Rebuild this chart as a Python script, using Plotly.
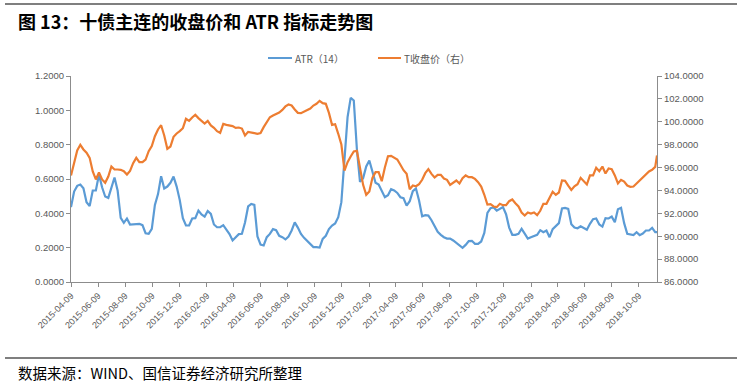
import pandas as pd
import plotly.graph_objects as go

# ---------------- data ----------------
dates = list(pd.date_range("2015-04-09", periods=189, freq="7D").strftime("%Y-%m-%d")) + ["2018-11-19"]

atr14 = [
    0.436, 0.527, 0.560, 0.568, 0.546, 0.465, 0.442, 0.533, 0.533, 0.626,
    0.552, 0.498, 0.490, 0.548, 0.609, 0.533, 0.374, 0.345, 0.370, 0.335,
    0.335, 0.337, 0.339, 0.331, 0.284, 0.281, 0.310, 0.449, 0.512, 0.616,
    0.545, 0.556, 0.578, 0.614, 0.556, 0.477, 0.372, 0.329, 0.329, 0.370,
    0.372, 0.416, 0.393, 0.381, 0.414, 0.397, 0.335, 0.319, 0.319, 0.331,
    0.308, 0.279, 0.242, 0.259, 0.279, 0.281, 0.347, 0.440, 0.455, 0.449,
    0.265, 0.218, 0.213,
    0.261, 0.280, 0.308, 0.302, 0.269, 0.261, 0.248, 0.265, 0.300, 0.347,
    0.317, 0.280, 0.257, 0.238, 0.220, 0.203, 0.203, 0.201, 0.251, 0.269,
    0.308, 0.329, 0.341, 0.378, 0.465, 0.737, 0.960, 1.073, 1.057, 0.772,
    0.583, 0.605, 0.673, 0.708, 0.649, 0.578, 0.568, 0.529, 0.494, 0.506,
    0.541, 0.533, 0.519, 0.494, 0.488, 0.445, 0.471, 0.529, 0.545, 0.475,
    0.383, 0.389, 0.387, 0.360, 0.323, 0.292, 0.275, 0.261, 0.253, 0.253,
    0.242, 0.228, 0.214,
    0.199, 0.216, 0.238, 0.240, 0.222, 0.222, 0.236, 0.286, 0.403, 0.430,
    0.434, 0.416, 0.426, 0.436, 0.395, 0.317, 0.275, 0.275, 0.281, 0.310,
    0.282, 0.253, 0.261, 0.267, 0.275, 0.302, 0.290, 0.300, 0.261, 0.308,
    0.325, 0.343, 0.428, 0.432, 0.426, 0.337, 0.317, 0.313, 0.325, 0.312,
    0.304, 0.339, 0.366, 0.370, 0.335, 0.323, 0.372, 0.370, 0.381, 0.348,
    0.424, 0.432, 0.343, 0.281, 0.277, 0.273, 0.290, 0.273, 0.282, 0.300,
    0.300, 0.315, 0.290,
    0.290,
]

t_close = [
    95.31, 96.38, 97.49, 97.99, 97.58, 97.29, 96.85, 95.66, 94.96, 95.57,
    94.96, 94.67, 95.22, 96.09, 95.83, 95.83, 95.80, 95.68, 95.39, 95.71,
    96.38, 96.85, 96.47, 96.47, 96.70, 97.43, 97.87, 98.74, 99.33, 99.70,
    98.80, 97.64, 97.84, 98.68, 98.98, 99.18, 99.44, 100.26, 100.08, 100.37,
    100.61, 100.32, 100.05, 99.85, 100.08, 99.68, 99.47, 99.18, 99.03, 99.82,
    99.73, 99.68, 99.62, 99.47, 99.50, 99.41, 98.80, 99.12, 99.09, 99.01,
    98.95, 99.01, 99.53,
    99.99, 100.40, 100.55, 100.67, 100.81, 101.04, 101.34, 101.51, 101.42, 101.07,
    100.78, 100.75, 100.87, 101.02, 101.16, 101.42, 101.57, 101.83, 101.63, 101.57,
    100.78, 99.73, 99.79, 98.95, 98.02, 95.74, 96.47, 96.97, 97.40, 97.46,
    96.12, 94.49, 93.62, 93.91, 95.10, 95.60, 95.60, 94.81, 96.01, 96.99,
    97.02, 96.82, 96.70, 96.24, 95.77, 95.45, 94.11, 94.43, 94.37, 94.55,
    94.93, 95.51, 95.86, 95.45, 95.13, 95.36, 95.36, 95.04, 94.93, 94.49,
    94.72, 94.87, 94.61,
    95.07, 95.31, 95.16, 95.16, 95.01, 94.72, 94.34, 93.62, 92.77, 92.80,
    92.60, 92.54, 92.83, 92.71, 92.71, 93.06, 93.21, 92.89, 92.60, 92.07,
    91.81, 92.07, 91.98, 92.07, 91.84, 92.22, 92.83, 92.83, 93.38, 93.88,
    93.62, 93.82, 94.87, 94.84, 94.43, 94.05, 94.37, 94.55, 95.10, 94.78,
    94.52, 95.31, 95.31, 95.98, 95.68, 96.09, 95.48, 95.92, 95.86, 95.31,
    94.61, 94.93, 94.78, 94.43, 94.32, 94.34, 94.61, 94.87, 95.13, 95.36,
    95.66, 95.80, 96.06,
    97.05,
]

x_ticks = [
    "2015-04-09", "2015-06-09", "2015-08-09", "2015-10-09", "2015-12-09",
    "2016-02-09", "2016-04-09", "2016-06-09", "2016-08-09", "2016-10-09",
    "2016-12-09", "2017-02-09", "2017-04-09", "2017-06-09", "2017-08-09",
    "2017-10-09", "2017-12-09", "2018-02-09", "2018-04-09", "2018-06-09",
    "2018-08-09", "2018-10-09",
]

series_names = ["ATR（14）", "T收盘价（右）"]
title_text = "图 13：十债主连的收盘价和 ATR 指标走势图"
source_text = "数据来源：WIND、国信证券经济研究所整理"

# ---------------- styling ----------------
BLUE = "#5B9BD5"
ORANGE = "#ED7D31"
GREY_TXT = "#595959"
AXIS = "#8C8C8C"
CJK = "Noto Sans CJK SC, sans-serif"
NUM = "Liberation Sans, Arial, sans-serif"

W, H = 740, 385
L, R, T, B = 71, 83, 76, 103
PW, PH = W - L - R, H - T - B


def px(x):
    return (x - L) / PW


def py(y):
    return 1 - (y - T) / PH


fig = go.Figure()
fig.add_trace(go.Scatter(x=dates, y=atr14, name=series_names[0], mode="lines",
                         line=dict(color=BLUE, width=2.2), yaxis="y", showlegend=False))
fig.add_trace(go.Scatter(x=dates, y=t_close, name=series_names[1], mode="lines",
                         line=dict(color=ORANGE, width=2.2), yaxis="y2", showlegend=False))

fig.update_layout(
    width=W, height=H, autosize=False,
    margin=dict(l=L, r=R, t=T, b=B, pad=0),
    paper_bgcolor="white", plot_bgcolor="white",
    title=dict(text=f"<b>{title_text}</b>", x=18 / W, xanchor="left",
               y=1 - 23 / H, yanchor="middle",
               font=dict(family=CJK, size=18, color="#000000")),
    xaxis=dict(
        type="date", range=[dates[0], dates[-1]],
        tickmode="array", tickvals=x_ticks, ticktext=x_ticks,
        tickangle=-45, ticks="outside", ticklen=4, tickcolor=AXIS,
        showline=True, linecolor=AXIS, linewidth=1,
        showgrid=False, zeroline=False,
        tickfont=dict(family=NUM, size=9, color=GREY_TXT),
    ),
    yaxis=dict(
        range=[0, 1.2], dtick=0.2, tick0=0, tickformat=".4f",
        ticks="outside", ticklen=4, tickcolor=AXIS,
        showline=True, linecolor=AXIS, linewidth=1,
        showgrid=False, zeroline=False,
        tickfont=dict(family=NUM, size=9.5, color=GREY_TXT),
    ),
    yaxis2=dict(
        range=[86, 104], dtick=2, tick0=86, tickformat=".4f",
        overlaying="y", side="right",
        ticks="outside", ticklen=4, tickcolor=AXIS,
        showline=True, linecolor=AXIS, linewidth=1,
        showgrid=False, zeroline=False,
        tickfont=dict(family=NUM, size=9.5, color=GREY_TXT),
    ),
)

# header / footer rules
fig.add_shape(type="line", xref="paper", yref="paper", x0=px(5), x1=px(737),
              y0=py(4), y1=py(4), line=dict(color="#000000", width=1.2))
fig.add_shape(type="line", xref="paper", yref="paper", x0=px(5), x1=px(737),
              y0=py(358), y1=py(358), line=dict(color="#000000", width=1.2))

# legend (custom, to match the short line samples)
legend_items = [(series_names[0], BLUE, 268, 292), (series_names[1], ORANGE, 378, 401)]
for name, col, x0, x1 in legend_items:
    fig.add_shape(type="line", xref="paper", yref="paper", x0=px(x0), x1=px(x1),
                  y0=py(58), y1=py(58), line=dict(color=col, width=2))
    fig.add_annotation(xref="paper", yref="paper", x=px(x1 + 1), y=py(58),
                       text=name, showarrow=False, xanchor="left", yanchor="middle",
                       font=dict(family=CJK, size=10, color=GREY_TXT))

fig.add_annotation(xref="paper", yref="paper", x=px(16), y=py(372),
                   text=source_text, showarrow=False, xanchor="left", yanchor="middle",
                   font=dict(family=CJK, size=14.5, color="#000000"))

# remove the default 8px page margin so the figure sits at the window's corner
fig.write_html("out.html",
               config={"displayModeBar": False},
               post_script="document.body.style.margin='0';document.body.style.overflow='hidden';")
